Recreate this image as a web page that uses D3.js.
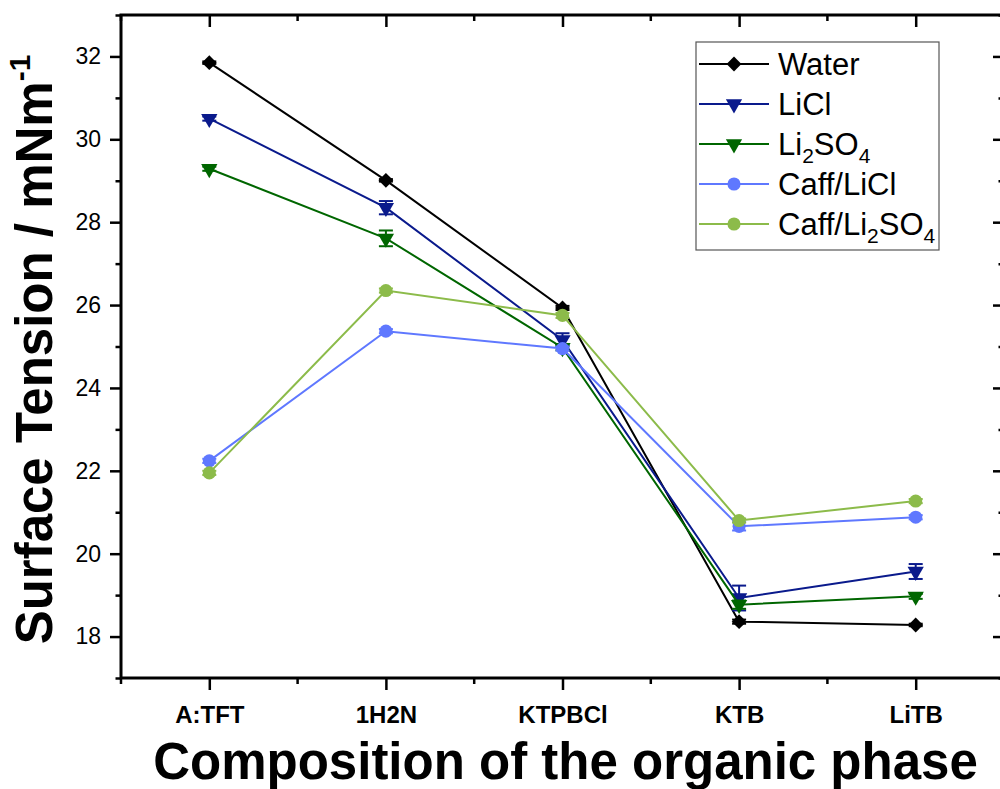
<!DOCTYPE html>
<html>
<head>
<meta charset="utf-8">
<script src="https://cdn.jsdelivr.net/npm/d3@7"></script>
<style>
  body { margin: 0; background: #fff; }
  svg { display: block; font-family: "Liberation Sans", Arial, sans-serif; }
</style>
</head>
<body>
<div id="chart"></div>
<script>
// categories on the x axis
const categories = ["A:TFT", "1H2N", "KTPBCl", "KTB", "LiTB"];

// surface tension values (mN/m)
const water      = [31.85, 29.01, 25.93, 18.36, 18.28];
const licl       = [30.50, 28.35, 25.16, 18.93, 19.57];
const li2so4     = [29.29, 27.61, 24.97, 18.77, 18.97];
const caffLicl   = [22.24, 25.37, 24.95, 20.66, 20.88];
const caffLi2so4 = [21.95, 26.35, 25.75, 20.80, 21.27];

// error bar half widths
const waterErr      = [0.03, 0.03, 0.05, 0.05, 0.03];
const liclErr       = [0.05, 0.16, 0.16, 0.30, 0.18];
const li2so4Err     = [0.05, 0.19, 0.06, 0.10, 0.06];
const caffLiclErr   = [0.05, 0.05, 0.05, 0.10, 0.05];
const caffLi2so4Err = [0.05, 0.05, 0.06, 0.05, 0.05];

const yTicks = [18, 20, 22, 24, 26, 28, 30, 32];

const series = [
  {name: ["Water"], values: water, err: waterErr, color: "#000000", symbol: "diamond"},
  {name: ["LiCl"], values: licl, err: liclErr, color: "#0a1a8c", symbol: "tri"},
  {name: ["Li", "2", "SO", "4"], values: li2so4, err: li2so4Err, color: "#006600", symbol: "tri"},
  {name: ["Caff/LiCl"], values: caffLicl, err: caffLiclErr, color: "#5f78ff", symbol: "circle"},
  {name: ["Caff/Li", "2", "SO", "4"], values: caffLi2so4, err: caffLi2so4Err, color: "#8cbb4a", symbol: "circle"}
];

const W = 1000, H = 789;
const m = {left: 121, right: 1004, top: 15, bottom: 678};

const svg = d3.select("#chart").append("svg")
    .attr("width", W).attr("height", H);

const x = d3.scalePoint().domain(categories).range([m.left, m.right]).padding(0.5);
const y = d3.scaleLinear().domain([17, 33]).range([m.bottom, m.top]);

// marker shapes
function markerPath(sym) {
  if (sym === "diamond") return d3.symbol().type(d3.symbolSquare).size(110)();
  if (sym === "circle") return d3.symbol().type(d3.symbolCircle).size(135)();
  return d3.symbol().type(d3.symbolTriangle).size(115)();
}
function markerTransform(sym, px, py) {
  const rot = sym === "tri" ? " rotate(180)" : (sym === "diamond" ? " rotate(45)" : "");
  return "translate(" + px + "," + py + ")" + rot;
}

const plot = svg.append("g");
const line = d3.line().x((d, i) => x(categories[i])).y(d => y(d));

series.forEach(s => {
  const g = plot.append("g");
  g.append("path")
    .datum(s.values)
    .attr("fill", "none")
    .attr("stroke", s.color)
    .attr("stroke-width", 2)
    .attr("d", line);

  // error bars
  const eb = g.selectAll(".eb").data(s.values).enter().append("g");
  eb.append("line")
    .attr("x1", (d, i) => x(categories[i])).attr("x2", (d, i) => x(categories[i]))
    .attr("y1", (d, i) => y(d - s.err[i])).attr("y2", (d, i) => y(d + s.err[i]))
    .attr("stroke", s.color).attr("stroke-width", 2);
  [-1, 1].forEach(sg => {
    eb.append("line")
      .attr("x1", (d, i) => x(categories[i]) - 7).attr("x2", (d, i) => x(categories[i]) + 7)
      .attr("y1", (d, i) => y(d + sg * s.err[i])).attr("y2", (d, i) => y(d + sg * s.err[i]))
      .attr("stroke", s.color).attr("stroke-width", 2);
  });

  g.selectAll(".mk").data(s.values).enter().append("path")
    .attr("d", markerPath(s.symbol))
    .attr("transform", (d, i) => markerTransform(s.symbol, x(categories[i]), y(d)))
    .attr("fill", s.color);
});

// axes
const axisG = svg.append("g");
const yAxis = axisG.append("g").attr("transform", "translate(" + m.left + ",0)")
  .call(d3.axisLeft(y).tickValues(yTicks).tickSize(11).tickPadding(9).tickFormat(d3.format("d")));
yAxis.selectAll("text").attr("font-size", 23).attr("fill", "#000");

axisG.append("g").attr("transform", "translate(" + m.left + ",0)")
  .call(d3.axisLeft(y).tickValues(d3.range(17, 34, 2)).tickSize(5.5).tickFormat(""));

axisG.append("g").attr("transform", "translate(" + m.right + ",0)")
  .call(d3.axisLeft(y).tickValues(yTicks).tickSize(11).tickFormat(""));
axisG.append("g").attr("transform", "translate(" + m.right + ",0)")
  .call(d3.axisLeft(y).tickValues(d3.range(17, 34, 2)).tickSize(5.5).tickFormat(""));

const xAxis = axisG.append("g").attr("transform", "translate(0," + m.bottom + ")")
  .call(d3.axisBottom(x).tickSize(12).tickPadding(16));
xAxis.selectAll("text").attr("font-size", 24).attr("font-weight", "bold").attr("fill", "#000");

// minor ticks between categories
const step = x.step();
const minorX = categories.map(c => x(c) - step / 2).concat([x(categories[categories.length - 1]) + step / 2]);
axisG.selectAll(".mxb").data(minorX).enter().append("line")
  .attr("x1", d => d).attr("x2", d => d).attr("y1", m.bottom).attr("y2", m.bottom + 6)
  .attr("stroke", "#000").attr("stroke-width", 2.5);

axisG.append("g").attr("transform", "translate(0," + m.top + ")")
  .call(d3.axisBottom(x).tickSize(12).tickFormat(""));
axisG.selectAll(".mxt").data(minorX).enter().append("line")
  .attr("x1", d => d).attr("x2", d => d).attr("y1", m.top).attr("y2", m.top + 6)
  .attr("stroke", "#000").attr("stroke-width", 2.5);

axisG.selectAll(".domain").remove();
axisG.selectAll(".tick line").attr("stroke", "#000").attr("stroke-width", 2.5);

// frame
axisG.append("rect")
  .attr("x", m.left).attr("y", m.top)
  .attr("width", m.right - m.left).attr("height", m.bottom - m.top)
  .attr("fill", "none").attr("stroke", "#000").attr("stroke-width", 3);

// axis titles
svg.append("text")
  .attr("x", (m.left + m.right) / 2 + 3).attr("y", 779)
  .attr("text-anchor", "middle")
  .attr("font-size", 51).attr("font-weight", "bold")
  .text("Composition of the organic phase");

const yt = svg.append("text")
  .attr("transform", "translate(52," + ((m.top + m.bottom) / 2 + 3) + ") rotate(-90)")
  .attr("text-anchor", "middle")
  .attr("font-size", 51).attr("font-weight", "bold");
yt.append("tspan").text("Surface Tension / mNm");
yt.append("tspan").attr("font-size", 30).attr("dy", -22).text("-1");

// legend
const lg = svg.append("g");
lg.append("rect")
  .attr("x", 696).attr("y", 42).attr("width", 243).attr("height", 208)
  .attr("fill", "#fff").attr("stroke", "#555").attr("stroke-width", 1.2);

series.forEach((s, i) => {
  const ly = 64 + i * 40;
  lg.append("line").attr("x1", 699).attr("x2", 769).attr("y1", ly).attr("y2", ly)
    .attr("stroke", s.color).attr("stroke-width", 2);
  lg.append("path").attr("d", markerPath(s.symbol))
    .attr("transform", markerTransform(s.symbol, 734, ly)).attr("fill", s.color);
  const t = lg.append("text").attr("x", 778).attr("y", ly + 11).attr("font-size", 31);
  s.name.forEach((part, j) => {
    const sub = j % 2 === 1;
    t.append("tspan")
      .attr("font-size", sub ? 21 : 31)
      .attr("dy", sub ? 8 : (j > 0 ? -8 : 0))
      .text(part);
  });
});
</script>
</body>
</html>
